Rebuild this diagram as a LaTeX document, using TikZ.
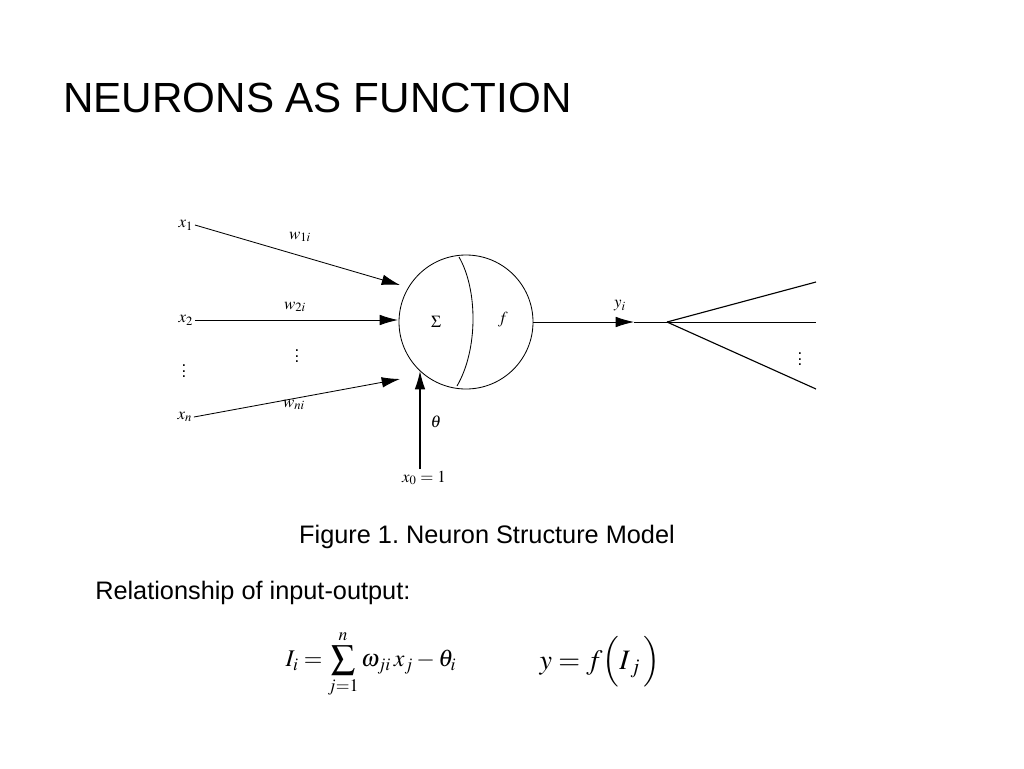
\documentclass[tikz,border=0pt]{standalone}
\usepackage{mathptmx}
\usepackage{fontspec}
\setmainfont{Liberation Sans}
\frenchspacing
\usetikzlibrary{arrows.meta}
\begin{document}
\begin{tikzpicture}[x=0.25mm,y=-0.25mm,
    inarrow/.style={semithick,-{Latex[length=13pt,width=7.5pt]}},
    lbl/.style={font=\fontsize{12}{14}\selectfont,inner sep=1pt},
    txt/.style={inner sep=0pt}]
    \useasboundingbox (0,0) rectangle (1024,768);
    % title and captions
    \node[txt,anchor=base west,font=\fontsize{30}{34}\selectfont] (Title) at (63,112) {NEURONS AS FUNCTION};
    \node[txt,anchor=base,font=\fontsize{18}{21}\selectfont] (Caption) at (487,543) {Figure 1. Neuron Structure Model};
    \node[txt,anchor=base west,font=\fontsize{18}{21}\selectfont] (Relation) at (95,599) {Relationship of input-output:};
    % neuron body
    \coordinate (Center) at (466,322);
    \draw [semithick] (Center) circle (67);
    \coordinate (ArcTop) at (459,257);
    \coordinate (ArcBot) at (457,386);
    \draw [semithick] (ArcTop) .. controls (478,290) and (478,350) .. (ArcBot);
    \node[lbl] (Sum) at (436,322) {$\Sigma$};
    \node[lbl] (Fun) at (503,320) {$f$};
    % inputs
    \node[lbl] (XOne)  at (186,225) {$x_1$};
    \node[lbl] (XTwo)  at (186,320) {$x_2$};
    \node[lbl] (XDots) at (184,367) {$\vdots$};
    \node[lbl] (XN)    at (185,417) {$x_n$};
    \coordinate (InOne) at (400,285);
    \coordinate (InTwo) at (398,320);
    \coordinate (InN)   at (400,379);
    \draw [inarrow] (XOne.east) -- (InOne);% first input
    \draw [inarrow] (XTwo.east) -- (InTwo);% second input
    \draw [inarrow] (XN.east) -- (InN);% last input
    \node[lbl] (WOne)  at (300,237) {$w_{1i}$};
    \node[lbl] (WTwo)  at (295,307) {$w_{2i}$};
    \node[lbl] (WDots) at (297,352) {$\vdots$};
    \node[lbl] (WN)    at (294,405) {$w_{ni}$};
    % threshold
    \node[lbl] (XZero) at (424,478) {$x_0=1$};
    \coordinate (InTheta) at (420,371);
    \draw [inarrow,thick] (XZero.north -| InTheta) -- (InTheta);
    \node[lbl] (Theta) at (436,422) {$\theta$};
    % output
    \coordinate (OutMid)   at (634,322);
    \coordinate (Split)    at (667,322);
    \coordinate (OutUp)    at (816,282);
    \coordinate (OutRight) at (816,322);
    \coordinate (OutDown)  at (816,389);
    \draw [inarrow] (Center) ++(67,0) -- (OutMid);
    \draw [semithick] (OutMid) -- (Split);
    \draw [thick] (Split) -- (OutUp);
    \draw [semithick] (Split) -- (OutRight);
    \draw [thick] (Split) -- (OutDown);
    \node[lbl] (YOut) at (620,306) {$y_i$};
    \node[lbl] (YDots) at (800,355) {$\vdots$};
    % formulas
    \node[txt,font=\fontsize{17}{20}\selectfont] (NetInput) at (371,664)
        {$\displaystyle I_i=\sum_{j=1}^{n}\omega_{ji}\,x_j-\theta_i$};
    \node[txt,font=\fontsize{20}{24}\selectfont] (Output) at (600,662)
        {$y=f\Big(I_{\,j}\,\Big)$};
\end{tikzpicture}
\end{document}
